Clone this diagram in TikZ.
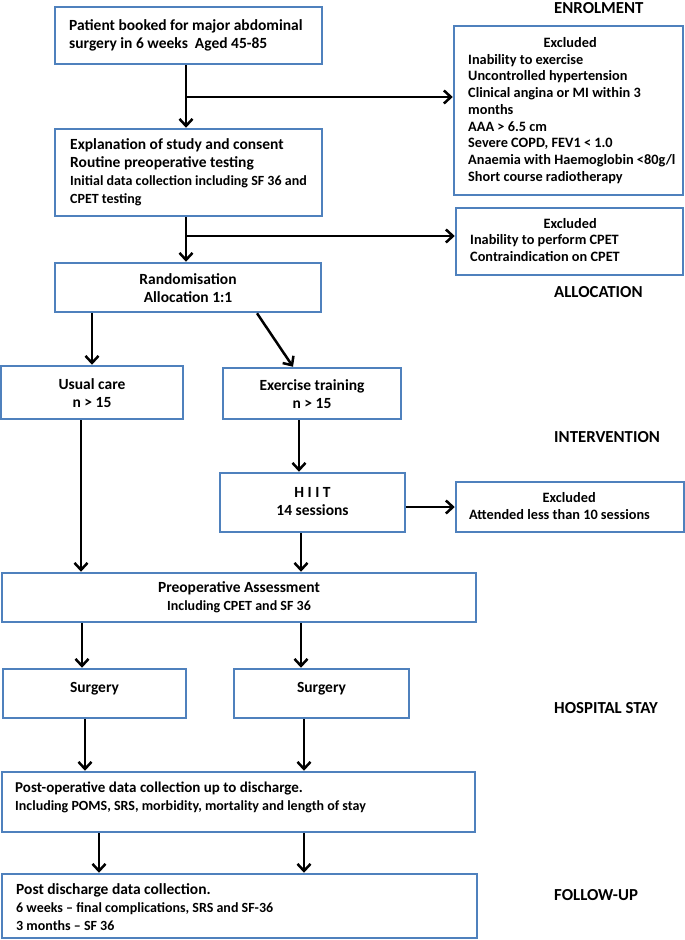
\documentclass[tikz,border=0pt]{standalone}
\usepackage{fontspec}
\setmainfont{Carlito}
\usetikzlibrary{arrows.meta,calc}
\definecolor{boxblue}{RGB}{79,129,189}
\newcommand\fbig{\fontsize{15.5}{18}\selectfont}
\newcommand\fmid{\fontsize{14}{17}\selectfont}
\newcommand\fpost{\fontsize{15}{18}\selectfont}
\begin{document}
\begin{tikzpicture}[x=1pt,y=-1pt,
  box/.style={draw=boxblue, line width=2.5pt, fill=white, inner sep=0pt, rectangle},
  txt/.style={inner sep=0pt, font=\bfseries\fontsize{15.5}{18}\selectfont, align=left},
  xtxt/.style={inner sep=0pt, font=\bfseries\fontsize{14.3}{16.7}\selectfont, align=left},
  arr/.style={line width=2.5pt, -{Straight Barb[length=7pt,width=13pt]}},
  lab/.style={anchor=west, inner sep=0pt, font=\bfseries\fontsize{16.8}{20}\selectfont}]
\useasboundingbox (0,0) rectangle (685,940);

% boxes
\node[box, minimum width=267pt, minimum height=57pt] (top) at (188.5,35.5) {};
\node[box, minimum width=229pt, minimum height=169pt] (ex1) at (568.5,110.5) {};
\node[box, minimum width=267pt, minimum height=87pt] (expl) at (188.5,172.5) {};
\node[box, minimum width=227pt, minimum height=67pt] (ex2) at (569.5,241.5) {};
\node[box, minimum width=266pt, minimum height=49pt] (rand) at (188,287.5) {};
\node[box, minimum width=182pt, minimum height=53pt] (usual) at (92,392.5) {};
\node[box, minimum width=178pt, minimum height=51pt] (exer) at (312,393.5) {};
\node[box, minimum width=185pt, minimum height=59pt] (hiit) at (312.5,502.5) {};
\node[box, minimum width=228pt, minimum height=50pt] (ex3) at (570,507) {};
\node[box, minimum width=474pt, minimum height=49pt] (preop) at (239,597.5) {};
\node[box, minimum width=183pt, minimum height=49pt] (surg1) at (94.5,693.5) {};
\node[box, minimum width=175pt, minimum height=49pt] (surg2) at (321.5,693.5) {};
\node[box, minimum width=473pt, minimum height=60pt] (postop) at (238.5,802) {};
\node[box, minimum width=475pt, minimum height=64pt] (postdis) at (239.5,906) {};

% texts
\node[txt, anchor=west] (ttop) at (69,35.5) {Patient booked for major abdominal\\surgery in 6 weeks\ \ Aged 45-85};
\node[txt, anchor=west] (texpl) at (70,172.5) {Explanation of study and consent\\Routine preoperative testing\\\fmid Initial data collection including SF 36 and\\\fmid CPET testing};
\node[xtxt, anchor=west] (tex1) at (468,110.5) {\makebox[204pt]{Excluded}\\Inability to exercise\\Uncontrolled hypertension\\Clinical angina or MI within 3\\months\\AAA > 6.5 cm\\Severe COPD, FEV1 < 1.0\\Anaemia with Haemoglobin <80g/l\\Short course radiotherapy};
\node[xtxt, anchor=west] (tex2) at (470,240) {\makebox[200pt]{Excluded}\\Inability to perform CPET\\Contraindication on CPET};
\node[txt, align=center] (trand) at (188,288) {Randomisation\\Allocation 1:1};
\node[txt, align=center] (tusual) at (92,393) {Usual care\\n > 15};
\node[txt, align=center] (texer) at (312,394) {Exercise training\\n > 15};
\node[txt, align=center] (thiit) at (312.5,502) {H I I T\\14 sessions};
\node[xtxt, anchor=west] (tex3) at (469,506) {\makebox[200pt]{Excluded}\\Attended less than 10 sessions};
\node[txt, align=center] (tpreop) at (239,597.5) {Preoperative Assessment\\\fmid Including CPET and SF 36};
\node[txt, anchor=base] (tsurg1) at (94.5,692) {Surgery};
\node[txt, anchor=base] (tsurg2) at (321.5,692) {Surgery};
\node[txt, anchor=west] (tpostop) at (15,797) {\fpost Post-operative data collection up to discharge.\\\fmid Including POMS, SRS, morbidity, mortality and length of stay};
\node[txt, anchor=west] (tpostdis) at (16,907) {Post discharge data collection.\\\fmid 6 weeks -- final complications, SRS and SF-36\\\fmid 3 months -- SF 36};

% stage labels
\node[lab] (lenrol) at (554,8) {ENROLMENT};
\node[lab] (lalloc) at (554,292) {ALLOCATION};
\node[lab] (linter) at (554,437) {INTERVENTION};
\node[lab] (lhosp) at (554,708) {HOSPITAL STAY};
\node[lab] (lfollow) at (554,895) {FOLLOW-UP};

% column coordinates
\coordinate (c186) at (186,0);
\coordinate (c81) at (81,0);
\coordinate (c82) at (82,0);
\coordinate (c85) at (85,0);
\coordinate (c99) at (99,0);
\coordinate (c299) at (299,0);
\coordinate (c301) at (301,0);
\coordinate (c304) at (304,0);
\coordinate (b1) at (186,97);
\coordinate (b2) at (186,236);

% connectors
\draw[arr] (top.south -| c186) -- (expl.north -| c186);
\draw[arr] (b1) -- (b1 -| ex1.west);
\draw[arr] (expl.south -| c186) -- (rand.north -| c186);
\draw[arr] (b2) -- (b2 -| ex2.west);
\draw[arr] (rand.south -| usual.north) -- (usual.north);
\draw[arr] ([xshift=69pt]rand.south) -- ([xshift=-19pt]exer.north);
\draw[arr] (exer.south -| c299) -- (hiit.north -| c299);
\draw[arr] (hiit.east |- ex3.west) -- (ex3.west);
\draw[arr] (usual.south -| c81) -- (preop.north -| c81);
\draw[arr] (hiit.south -| c301) -- (preop.north -| c301);
\draw[arr] (preop.south -| c82) -- (surg1.north -| c82);
\draw[arr] (preop.south -| c301) -- (surg2.north -| c301);
\draw[arr] (surg1.south -| c85) -- (postop.north -| c85);
\draw[arr] (surg2.south -| c304) -- (postop.north -| c304);
\draw[arr] (postop.south -| c99) -- (postdis.north -| c99);
\draw[arr] (postop.south -| c304) -- (postdis.north -| c304);
\end{tikzpicture}
\end{document}
